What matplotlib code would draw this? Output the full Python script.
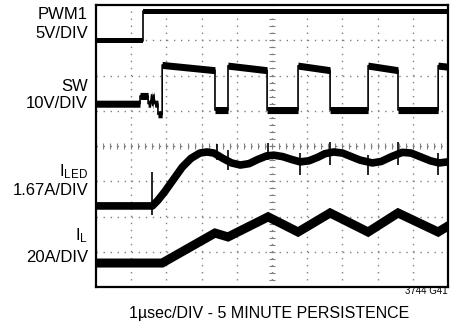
import numpy as np
import matplotlib.pyplot as plt

plt.rcParams['font.family'] = ['Liberation Sans', 'DejaVu Sans']
plt.rcParams['mathtext.fontset'] = 'custom'
plt.rcParams['mathtext.rm'] = 'Liberation Sans'

# scope traces, in graticule divisions (10 x 8)
pwm_x = [0, 1.34, 1.34, 10]
pwm_y = [6.99, 6.99, 7.82, 7.82]

sw_x = [0, 1.25, 1.25, 1.48, 1.48, 1.55, 1.58, 1.61, 1.64, 1.67, 1.76, 1.76, 1.88, 1.88,
        3.38, 3.38, 3.75, 3.75, 4.86, 4.86, 5.74, 5.74, 6.65, 6.65, 7.73, 7.73,
        8.58, 8.58, 9.72, 9.72, 10]
sw_y = [5.2, 5.2, 5.42, 5.42, 5.2, 5.2, 5.45, 5.15, 5.45, 5.2, 5.2, 4.9, 4.9, 6.3,
        6.15, 5.02, 5.02, 6.28, 6.15, 5.02, 5.02, 6.28, 6.15, 5.02, 5.02, 6.28,
        6.15, 5.02, 5.02, 6.28, 6.25]

iled_x = [0, 1.6, 1.75, 1.95, 2.2, 2.45, 2.7, 2.95, 3.15, 3.35, 3.6, 3.85, 4.1, 4.35,
          4.6, 4.85, 5.05, 5.3, 5.55, 5.8, 6.05, 6.3, 6.5, 6.75, 7.0, 7.25, 7.5,
          7.85, 8.1, 8.4, 8.7, 8.95, 9.2, 9.5, 9.75, 10]
iled_y = [2.3, 2.3, 2.45, 2.7, 3.05, 3.4, 3.65, 3.8, 3.83, 3.8, 3.65, 3.52, 3.46, 3.5,
          3.62, 3.72, 3.74, 3.7, 3.62, 3.55, 3.58, 3.68, 3.78, 3.83, 3.8, 3.7, 3.6,
          3.52, 3.56, 3.7, 3.82, 3.8, 3.7, 3.58, 3.52, 3.55]

spike_x = [1.59, 3.44, 3.75, 4.89, 5.8, 6.65, 7.73, 8.58, 9.72]
spike_top = [3.26, 4.06, 3.89, 4.09, 3.8, 4.11, 3.74, 4.11, 3.8]
spike_bot = [2.04, 3.6, 3.32, 3.6, 3.18, 3.46, 3.18, 3.46, 3.18]

il_x = [0, 1.88, 3.38, 3.75, 4.89, 5.74, 6.65, 7.73, 8.58, 9.72, 10]
il_y = [0.68, 0.68, 1.53, 1.42, 1.99, 1.56, 2.1, 1.56, 2.1, 1.56, 1.73]

fig = plt.figure(figsize=(4.58, 3.26), dpi=100)
ax = fig.add_axes([96 / 458, 39 / 326, 352 / 458, 282 / 326])
ax.set_xlim(0, 10)
ax.set_ylim(0, 8)
ax.set_xticks([])
ax.set_yticks([])
for s in ax.spines.values():
    s.set_linewidth(1.6)
    s.set_zorder(5)

# graticule
dots = (0, (1, 4.07))
for gx in range(1, 10):
    ax.axvline(gx, color='#808080', lw=1, ls=dots, zorder=1)
for gy in range(1, 8):
    ax.axhline(gy, color='#808080', lw=1, ls=dots, zorder=1)
ty = np.arange(0, 8.01, 0.2)
tx = np.arange(0, 10.01, 0.2)
ax.plot(np.full(len(ty), 5), ty, ls='none', marker='_', ms=5, mew=0.8, color='#808080', zorder=1)
ax.plot(tx, np.full(len(tx), 4), ls='none', marker='|', ms=5, mew=0.8, color='#808080', zorder=1)

# traces
pwm_y = np.array(pwm_y)
ax.fill_between(pwm_x, pwm_y - 0.08, pwm_y + 0.08, color='black', lw=0, zorder=3)
ax.plot(pwm_x, pwm_y, color='black', lw=1.2, zorder=3)

sw_y = np.array(sw_y)
ax.fill_between(sw_x, sw_y - 0.1, sw_y + 0.1, color='black', lw=0, zorder=3)
ax.plot(sw_x, sw_y, color='black', lw=1.2, zorder=3)

ax.plot(iled_x, iled_y, color='black', lw=5.5, solid_joinstyle='round', zorder=3)
ax.vlines(spike_x, spike_bot, spike_top, color='black', lw=1.2, zorder=3)

ax.plot(il_x, il_y, color='black', lw=6.5, solid_joinstyle='miter', zorder=3)

# channel labels
def lab(txt, py):
    fig.text(88 / 458, 1 - py / 326, txt, ha='right', va='baseline', fontsize=12)

lab('PWM1', 19)
lab('5V/DIV', 38)
lab('SW', 91)
lab('10V/DIV', 108)
lab(r'$\mathregular{I_{LED}}$', 176)
lab('1.67A/DIV', 195)
lab(r'$\mathregular{I_{L}}$', 240)
lab('20A/DIV', 262)

fig.text(269 / 458, 1 - 318 / 326, '1\u00b5sec/DIV - 5 MINUTE PERSISTENCE',
         ha='center', va='baseline', fontsize=11.5)
fig.text(448 / 458, 1 - 294 / 326, '3744 G41', ha='right', va='baseline', fontsize=7)

fig.savefig('out.png', dpi=100)
